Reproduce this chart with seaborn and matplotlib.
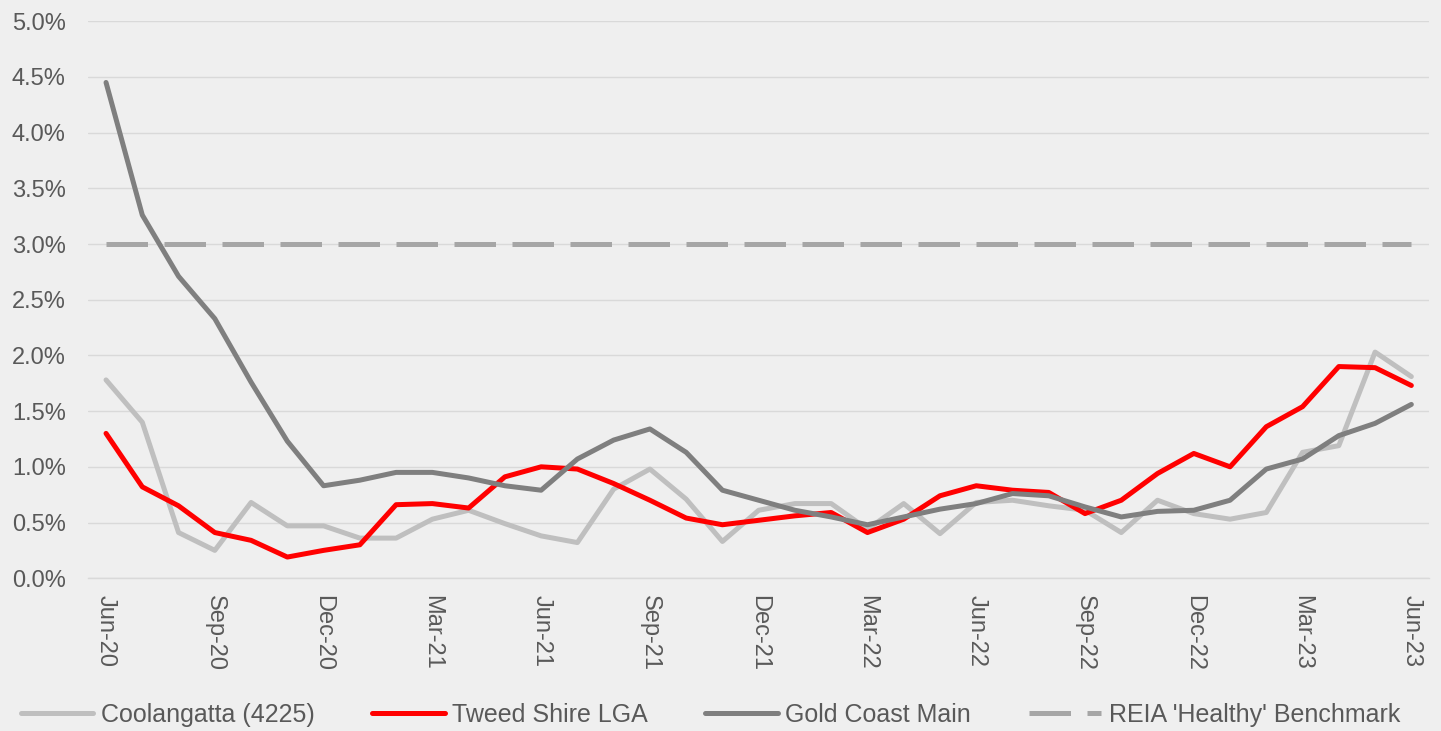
import matplotlib.pyplot as plt
import matplotlib.ticker as mticker
from matplotlib.lines import Line2D
import numpy as np
import pandas as pd
import seaborn as sns

# monthly vacancy rates (%), Jun-20 .. Jun-23
months = pd.date_range("2020-06-01", periods=37, freq="MS").strftime("%b-%y").tolist()

coolangatta = [1.78, 1.40, 0.41, 0.25, 0.68, 0.47, 0.47, 0.36, 0.36, 0.53,
               0.61, 0.49, 0.38, 0.32, 0.80, 0.98, 0.71, 0.33, 0.61, 0.67,
               0.67, 0.44, 0.67, 0.40, 0.68, 0.70, 0.65, 0.61, 0.41, 0.70,
               0.58, 0.53, 0.59, 1.13, 1.19, 2.03, 1.81]
tweed = [1.30, 0.82, 0.65, 0.41, 0.34, 0.19, 0.25, 0.30, 0.66, 0.67,
         0.63, 0.91, 1.00, 0.98, 0.85, 0.70, 0.54, 0.48, 0.52, 0.56,
         0.59, 0.41, 0.53, 0.74, 0.83, 0.79, 0.77, 0.58, 0.70, 0.94,
         1.12, 1.00, 1.36, 1.54, 1.90, 1.89, 1.73]
gold_coast = [4.45, 3.26, 2.71, 2.33, 1.76, 1.23, 0.83, 0.88, 0.95, 0.95,
              0.90, 0.83, 0.79, 1.07, 1.24, 1.34, 1.13, 0.79, 0.70, 0.61,
              0.55, 0.48, 0.55, 0.62, 0.67, 0.76, 0.74, 0.64, 0.55, 0.60,
              0.61, 0.70, 0.98, 1.07, 1.28, 1.39, 1.56]
benchmark = [3.0] * 37

names = ["Coolangatta (4225)", "Tweed Shire LGA", "Gold Coast Main",
         "REIA 'Healthy' Benchmark"]
colors = ["#BFBFBF", "#FF0000", "#7F7F7F", "#A6A6A6"]

frames = []
for name, vals in zip(names, [coolangatta, tweed, gold_coast, benchmark]):
    frames.append(pd.DataFrame({"idx": np.arange(len(months)), "vacancy": vals,
                                "series": name}))
df = pd.concat(frames, ignore_index=True)

bg = "#EFEFEF"
txt = "#595959"
grid = "#D9D9D9"

sns.set_style("white")
plt.rcParams["font.family"] = ["Liberation Sans", "DejaVu Sans"]

fig = plt.figure(figsize=(14.41, 7.31), dpi=100, facecolor=bg)
ax = fig.add_axes([0.061, 0.209, 0.931, 0.762])
ax.set_facecolor(bg)

lw = 3.6
palette = dict(zip(names, colors))
dashes = {n: "" for n in names}
dashes[names[3]] = (8.3, 3.3)
sns.lineplot(data=df, x="idx", y="vacancy", hue="series", style="series",
             palette=palette, dashes=dashes, linewidth=lw, sort=False,
             legend=False, ax=ax)
for line in ax.get_lines():
    line.set_solid_joinstyle("round")

ax.set_xlim(-0.5, 36.5)
ax.set_ylim(0, 5)
ax.set_xlabel("")
ax.set_ylabel("")

ax.set_yticks(np.arange(0, 5.01, 0.5))
ax.yaxis.set_major_formatter(mticker.FuncFormatter(lambda v, _: f"{v:.1f}%"))
ax.yaxis.grid(True, color=grid, lw=1)
ax.set_axisbelow(True)

ax.set_xticks(range(0, 37, 3))
ax.set_xticklabels(months[::3], rotation=270)
ax.set_xticks(np.arange(-0.5, 36.5, 3), minor=True)
ax.tick_params(axis="x", which="major", length=0, pad=12, labelsize=17, labelcolor=txt)
ax.tick_params(axis="x", which="minor", length=8, width=1, color=grid)
ax.tick_params(axis="y", length=0, pad=16, labelsize=17, labelcolor=txt)
for lbl in ax.get_xticklabels():
    lbl.set_verticalalignment("top")

for s in ["top", "right", "left"]:
    ax.spines[s].set_visible(False)
ax.spines["bottom"].set_color(grid)
ax.spines["bottom"].set_linewidth(1)

handles = [Line2D([], [], color=c, lw=lw, dashes=dashes[n] if dashes[n] else (None, None))
           for n, c in zip(names, colors)]
fig.legend(handles, names, loc="lower center", bbox_to_anchor=(0.493, -0.025),
           ncol=4, frameon=False, handlelength=2.9, columnspacing=2.3,
           handletextpad=0.3, fontsize=18, labelcolor=txt)

fig.savefig("out.png", dpi=100, facecolor=bg)
